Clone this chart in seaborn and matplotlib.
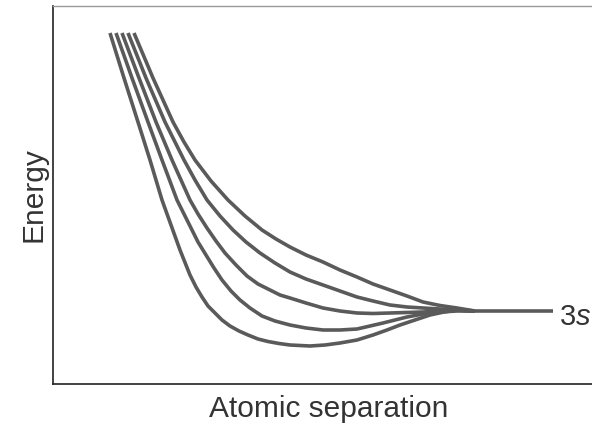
import matplotlib
matplotlib.use("Agg")
import matplotlib.pyplot as plt
import seaborn as sns
import pandas as pd

# ---- data (arbitrary units) ----
sep_1 = [81, 100, 110, 120, 131, 142, 158, 175, 192, 209, 223, 237, 253, 270, 287,
         304, 320, 337, 354, 370, 387, 404, 422]
en_1 = [351, 306, 284, 262, 242, 224, 203, 184, 168, 154, 145, 137, 129, 122, 114,
        107, 100, 94, 88, 82, 78.5, 76, 73]

sep_2 = [75, 93, 112, 131, 142, 154, 167, 180, 193, 207, 222, 237, 253, 270, 287,
         304, 320, 337, 354, 370, 404, 422]
en_2 = [351, 306, 262, 224, 204, 184, 168, 154, 142, 131, 121, 112, 105, 99, 93,
        87, 83, 79, 77, 76, 74, 73]

sep_3 = [69, 86, 103, 119, 137, 145, 154, 163, 172, 183, 194, 205, 217, 227, 237,
         253, 270, 287, 304, 320, 337, 370, 404, 422]
en_3 = [351, 306, 262, 224, 184, 170, 156, 143, 131, 119, 108, 100, 94, 89, 86,
        81, 76, 73, 71, 70.5, 71, 72, 74, 73]

sep_4 = [63, 79, 95, 109, 124, 131, 138, 145, 153, 161, 169, 178, 187, 197, 209,
         222, 237, 253, 270, 287, 304, 317, 330, 342, 354, 370, 387, 404, 422]
en_4 = [351, 306, 262, 224, 184, 170, 156, 142, 129, 116, 104, 93, 84, 76, 68,
        63, 59, 56, 54, 54, 55, 58, 61, 64, 67, 70, 72, 73, 73]

sep_5 = [57, 71, 85, 97, 109, 118, 127, 137, 143, 149, 155, 162, 169, 177, 186,
         195, 205, 215, 226, 237, 257, 272, 287, 304, 320, 334, 347, 362, 377, 391,
         404, 422]
en_5 = [351, 306, 262, 224, 184, 159, 134, 109, 97, 87, 78, 71, 64, 58, 53,
        49, 45, 42.5, 40.5, 39, 38, 39, 41, 44, 49, 54, 59, 64, 69, 72,
        74, 73]

sep_tail = [422, 500]
en_tail = [73, 73]

x_label = "Atomic separation"
y_label = "Energy"

frames = []
for name, xs, ys in [("c1", sep_1, en_1), ("c2", sep_2, en_2), ("c3", sep_3, en_3),
                     ("c4", sep_4, en_4), ("c5", sep_5, en_5), ("tail", sep_tail, en_tail)]:
    frames.append(pd.DataFrame({"sep": xs, "energy": ys, "curve": name}))
df = pd.concat(frames, ignore_index=True)

sns.set_theme(style="white")
plt.rcParams["font.family"] = ["Liberation Sans", "DejaVu Sans"]
plt.rcParams["mathtext.fontset"] = "custom"
plt.rcParams["mathtext.it"] = "Liberation Sans:italic"
plt.rcParams["mathtext.rm"] = "Liberation Sans"

fig = plt.figure(figsize=(5.92, 4.28), dpi=100)
L, R, B, T = 53 / 592, 605 / 592, (428 - 384) / 428, (428 - 6) / 428
ax = fig.add_axes([L, B, R - L, T - B])

line_color = "#5a5a5a"
for name in ["c1", "c2", "c3", "c4", "c5", "tail"]:
    sub = df[df["curve"] == name]
    sns.lineplot(data=sub, x="sep", y="energy", ax=ax, sort=False, estimator=None,
                 color=line_color, linewidth=2.6, legend=False,
                 solid_capstyle="butt", solid_joinstyle="round")

ax.set_xlim(0, 552)
ax.set_ylim(0, 378)
ax.set_xticks([])
ax.set_yticks([])

ax.text(506, 59, "3$s$", fontsize=21, color="#333333", va="baseline", ha="left",
        clip_on=False)

ax.set_xlabel(x_label, fontsize=21.5, color="#333333", labelpad=8)
ax.set_ylabel(y_label, fontsize=21.5, color="#333333", labelpad=4)

for side in ["left", "bottom"]:
    ax.spines[side].set_color("#222222")
    ax.spines[side].set_linewidth(1.2)
ax.spines["top"].set_color("#9a9a9a")
ax.spines["top"].set_linewidth(1.0)
ax.spines["right"].set_visible(False)

fig.savefig("out.png", dpi=100)
